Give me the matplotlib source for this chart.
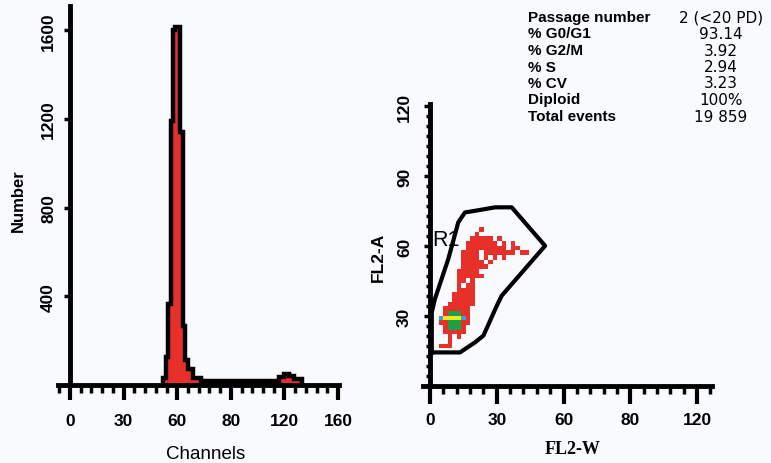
import matplotlib.pyplot as plt
import numpy as np
from matplotlib.colors import to_rgba
from matplotlib.ticker import AutoMinorLocator

# --- DNA histogram (channel vs number of events)
hist_edges = [55.5, 57.3, 58.5, 60.3, 61.5, 62.7, 65.7, 67.5, 68.7, 70.4, 73.4,
              78, 125, 128, 131, 134, 138.5]
hist_counts = [30, 125, 365, 1190, 1600, 1615, 1140, 265, 115, 70, 30,
               20, 35, 48, 42, 25]
chan_ticks = [0, 32, 64, 96, 128, 160]
chan_labels = ['0', '30', '60', '80', '120', '160']
num_ticks = [400, 800, 1200, 1600]

# --- FL2-W / FL2-A dot plot
fl2w_ticks = [0, 30, 60, 90, 120]
fl2w_labels = ['0', '30', '60', '80', '120']
fl2a_ticks = [30, 60, 90, 120]
fl2a_labels = ['30', '60', '90', '120']

gate_x = [0.8, 13.5, 20.2, 24.0, 30.0, 32.2, 51.7, 36.7, 29.2, 23.2, 15.7, 12.7, 8.2, 2.2, 0.8, 0.8]
gate_y = [14.4, 14.4, 18.7, 21.6, 34.4, 38.7, 60.1, 76.6, 76.6, 75.6, 74.4, 70.2, 54.4, 37.3, 31.6, 14.4]

# density map, 2x2 unit cells, x 4..46, y 68..14 (top row first)
# r = red, g = green, y = yellow, b = blue
density_rows = [
    ".........r...........",
    "........r............",
    ".......rrrrr.r.......",
    "......rrrrrrr.r.r....",
    "......rrrrrrrrr.rr...",
    ".....rrrr.rrrrrrr.rr.",
    ".....rrrr.r.r.r......",
    ".....rrrrr.r.........",
    ".....rrrrrr..........",
    "....rrrrr............",
    "....rrrrrr...........",
    "....rr.r.............",
    "....r.rr.............",
    "....rrrr.............",
    "...rrrrr.............",
    "...rrrrr.............",
    "..rrrrrr.............",
    ".rrrrrr..............",
    ".rgggrr..............",
    "byyyybr..............",
    "rrgggrr..............",
    ".rgggr...............",
    ".rrrrr...............",
    "..r.r................",
    "..r..................",
    "rrr..................",
    ".....................",
]
density_colors = {'r': '#e8302a', 'g': '#1f9e4a', 'y': '#f2e61c', 'b': '#2aa7df'}

stats_names = ['Passage number', '% G0/G1', '% G2/M', '% S', '% CV', 'Diploid', 'Total events']
stats_values = ['2 (<20 PD)', '93.14', '3.92', '2.94', '3.23', '100%', '19 859']

W, H = 771, 464
red = '#e8302a'
tick_font = dict(fontsize=12.5, fontweight='bold', family='Liberation Sans')

fig = plt.figure(figsize=(W / 100, H / 100), dpi=100, facecolor='#f9fafd')

# ---------------- left: histogram
ax1 = fig.add_axes([58 / W, (H - 386) / H, 281 / W, 379 / H])
ax1.set_facecolor('none')
ax1.stairs(hist_counts, hist_edges, baseline=0, fill=True, color=red, zorder=2)
ax1.stairs(hist_counts, hist_edges, baseline=0, color='black', lw=3.2, zorder=3)
ax1.set_xlim(-7.2, 160.6)
ax1.set_ylim(0, 1710)
for s in ['top', 'right']:
    ax1.spines[s].set_visible(False)
ax1.spines['left'].set_position(('data', 0))
ax1.spines['left'].set_linewidth(3.5)
ax1.spines['bottom'].set_linewidth(3.5)
ax1.set_xticks(chan_ticks, chan_labels, **tick_font)
ax1.set_yticks(num_ticks, [str(v) for v in num_ticks], rotation=90, va='center', **tick_font)
ax1.xaxis.set_minor_locator(AutoMinorLocator(5))
ax1.tick_params(axis='x', which='major', length=11, width=3, pad=9)
ax1.tick_params(axis='x', which='minor', length=6, width=2.5)
ax1.tick_params(axis='y', which='major', length=4, width=2.5, pad=6)
ax1.set_xlabel('Channels', fontsize=13.5, family='Liberation Sans', va='center')
ax1.xaxis.set_label_coords(0.527, -0.182)
ax1.set_ylabel('Number', fontsize=12, fontweight='bold', family='Liberation Sans', va='center')
ax1.yaxis.set_label_coords(-0.142, 0.49)

# ---------------- right: FL2-W vs FL2-A
ax2 = fig.add_axes([423 / W, (H - 387) / H, 289 / W, 282 / H])
ax2.set_facecolor('none')
img = np.zeros((len(density_rows), len(density_rows[0]), 4))
for i, row in enumerate(density_rows):
    for j, ch in enumerate(row):
        if ch in density_colors:
            img[i, j] = to_rgba(density_colors[ch])
ax2.imshow(img, extent=(4, 46, 14, 68), interpolation='nearest', aspect='auto', zorder=1)
ax2.plot(gate_x, gate_y, color='black', lw=3, solid_joinstyle='round', zorder=3)
ax2.text(0.8, 63, 'R1', fontsize=15.5, family='Liberation Sans', ha='left', va='center', zorder=4)
ax2.set_xlim(-3.15, 126.7)
ax2.set_ylim(0, 120.9)
for s in ['top', 'right']:
    ax2.spines[s].set_visible(False)
ax2.spines['left'].set_position(('data', 0))
ax2.spines['left'].set_linewidth(3.5)
ax2.spines['bottom'].set_linewidth(3.5)
ax2.set_xticks(fl2w_ticks, fl2w_labels, **tick_font)
ax2.set_yticks(fl2a_ticks, fl2a_labels, rotation=90, va='center', **tick_font)
ax2.xaxis.set_minor_locator(AutoMinorLocator(5))
ax2.yaxis.set_minor_locator(AutoMinorLocator(7))
ax2.tick_params(axis='x', which='major', length=13, width=3, pad=6)
ax2.tick_params(axis='x', which='minor', length=6, width=2.5)
ax2.tick_params(axis='y', which='major', length=4, width=2.5, pad=9)
ax2.tick_params(axis='y', which='minor', length=3, width=2.5)
ax2.set_xlabel('FL2-W', fontsize=13, fontweight='bold', family='Liberation Serif', va='center')
ax2.xaxis.set_label_coords(0.519, -0.223)
ax2.set_ylabel('FL2-A', fontsize=12.5, fontweight='bold', family='Liberation Sans', va='center')
ax2.yaxis.set_label_coords(-0.156, 0.461)

# ---------------- stats table
for k, (name, val) in enumerate(zip(stats_names, stats_values)):
    y = 18 + 16.5 * k
    fig.text(528 / W, 1 - y / H, name, fontsize=11, fontweight='bold',
             family='Liberation Sans', ha='left', va='center')
    fig.text(721 / W, 1 - y / H, val, fontsize=11, family='DejaVu Sans',
             ha='center', va='center')

fig.savefig('out.png', dpi=100, facecolor=fig.get_facecolor())
